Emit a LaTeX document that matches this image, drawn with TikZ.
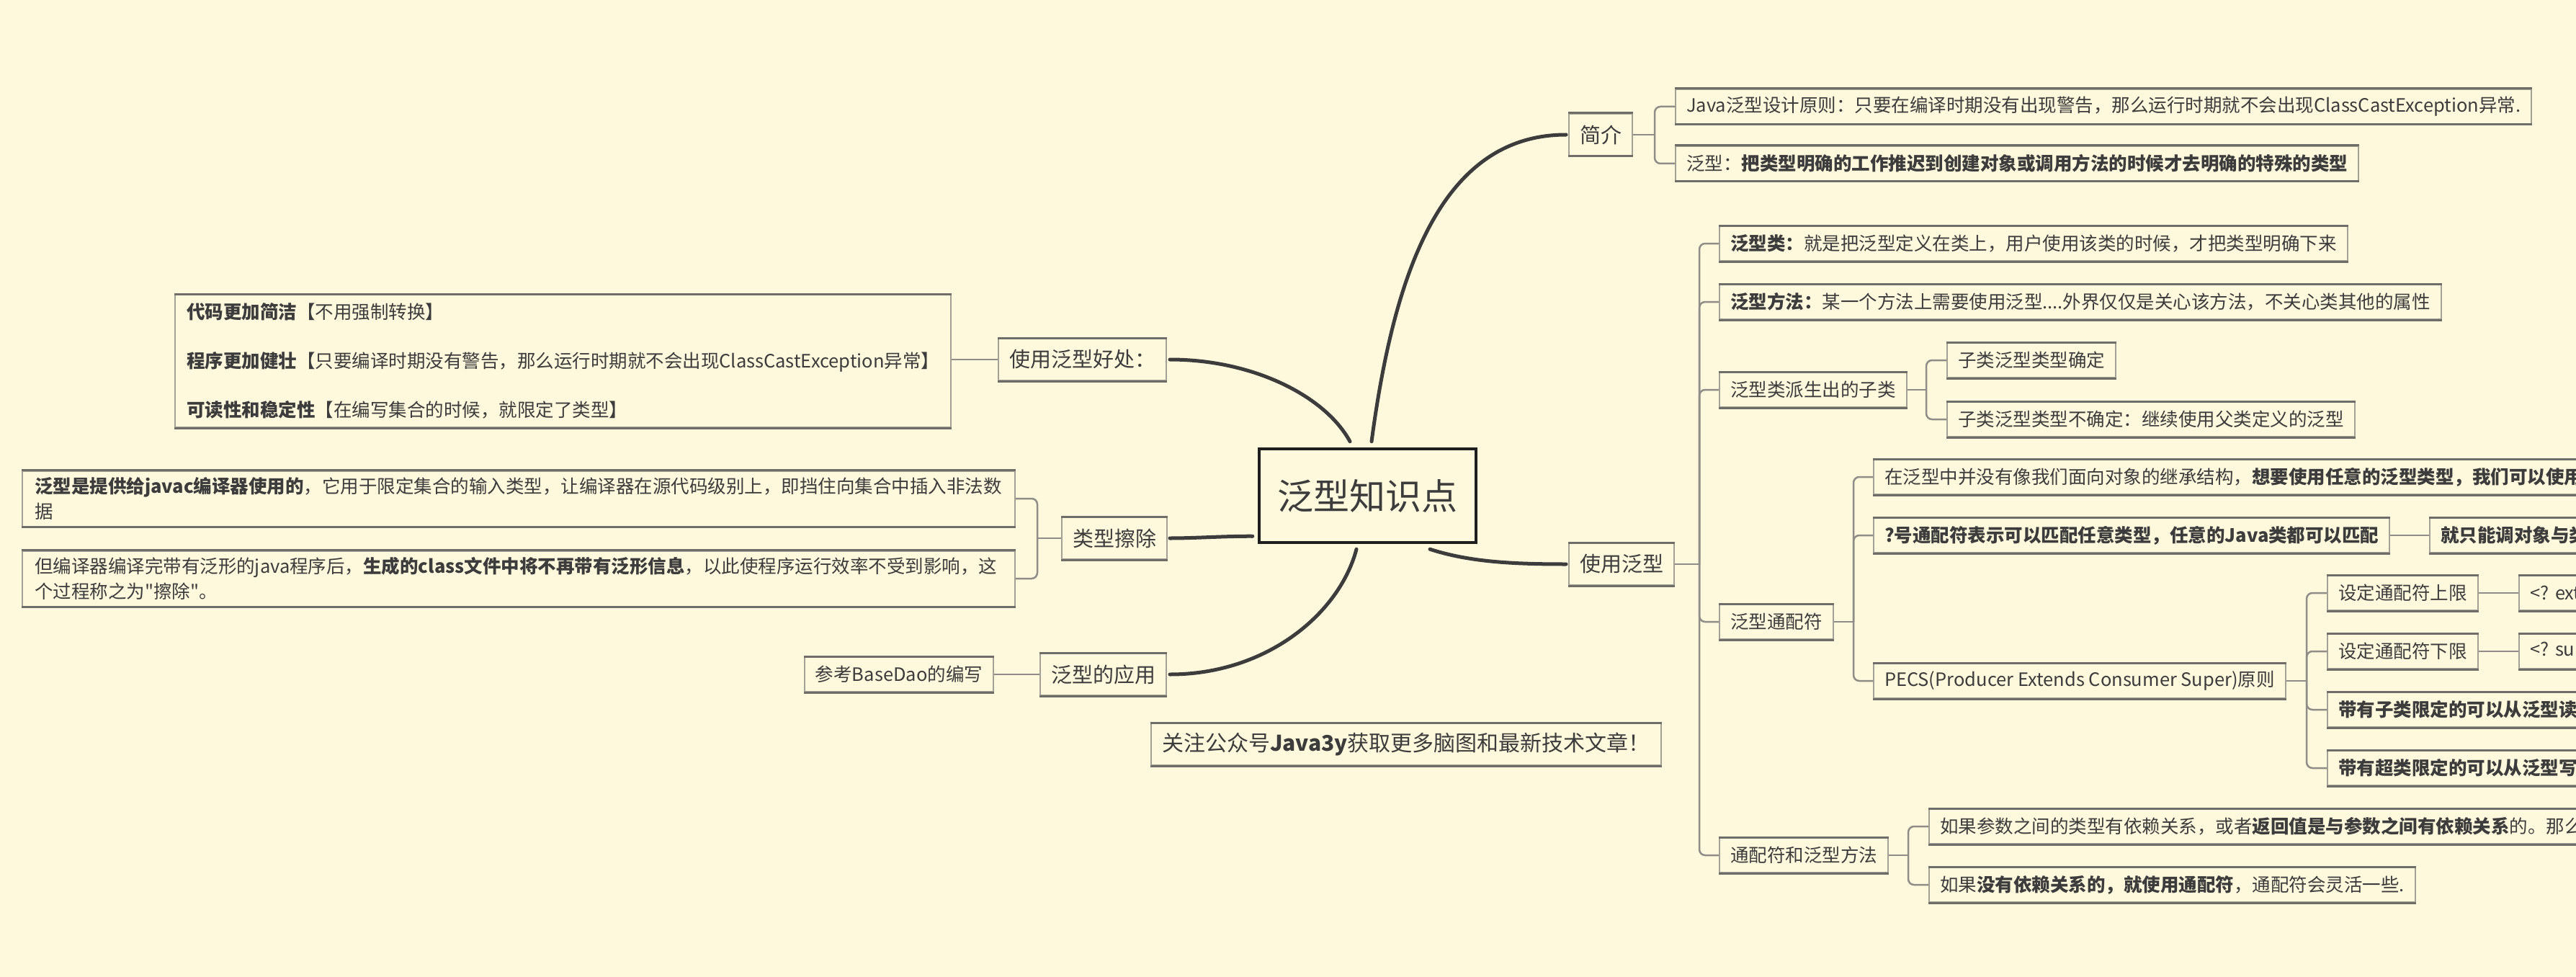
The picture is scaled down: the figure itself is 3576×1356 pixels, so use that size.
\documentclass[tikz,border=0pt]{standalone}
\usepackage{fontspec}
\setmainfont{Noto Sans CJK SC}
\newfontfamily\plainq{Noto Sans CJK SC}
\usetikzlibrary{calc}
\definecolor{bg}{HTML}{FEF8DC}
\definecolor{ink}{HTML}{3C3C3C}
\definecolor{sidegray}{HTML}{A3A196}
\definecolor{edgegray}{HTML}{6E6D68}
\definecolor{conngray}{HTML}{8E8D87}
\definecolor{mainline}{HTML}{3C3C3C}
\definecolor{rootline}{HTML}{1E1E1E}
\newcommand\fsA{\fontsize{29}{36}\selectfont}
\newcommand\fsB{\fontsize{25.5}{35}\selectfont}
\newcommand\fsN{\fontsize{30}{36}\selectfont}
\newcommand\fsR{\fontsize{50}{60}\selectfont}
\tikzset{
  edgeline/.style={draw=edgegray, line width=3},
  box/.style={draw=sidegray, line width=2, fill=bg, text=ink, inner xsep=15, inner ysep=0, anchor=west,
    append after command={(\tikzlastnode.north west) edge[edgeline] (\tikzlastnode.north east)
      (\tikzlastnode.south west) edge[edgeline] (\tikzlastnode.south east)}},
  lvone/.style={box, font=\fsA, minimum height=58},
  lvtwo/.style={box, font=\fsB, minimum height=48},
  cutbox/.style={lvtwo, text width=1200, align=left},
  rootbox/.style={draw=rootline, line width=4.5, fill=bg, text=ink, font=\fsR, minimum width=301, minimum height=130},
  conn/.style={draw=conngray, line width=2.5, rounded corners=8},
  mainc/.style={draw=mainline, line width=5, line cap=round},
}
\begin{document}
\begin{tikzpicture}[x=1pt,y=-1pt]
\useasboundingbox (0,0) rectangle (3576,1356);
\fill[bg] (0,0) rectangle (3576,1356);
\clip (0,0) rectangle (3576,1356);

% root
\node[rootbox] (root) at (1898.5,688) {泛型知识点};

% ---------- 简介
\node[lvone] (jj) at (2177,187) {简介};
\node[lvtwo] (jj1) at (2325,148) {Java泛型设计原则：只要在编译时期没有出现警告，那么运行时期就不会出现ClassCastException异常.};
\node[lvtwo] (jj2) at (2325,227) {泛型：\textbf{把类型明确的工作推迟到创建对象或调用方法的时候才去明确的特殊的类型}};
\coordinate (bjj) at (2297,187);
\draw[conn] (jj.east) -- (bjj);
\draw[conn] (bjj) |- (jj1.west);
\draw[conn] (bjj) |- (jj2.west);

% ---------- 使用泛型
\node[lvone] (sy) at (2177,783) {使用泛型};
\coordinate (bsy) at (2359,783);
\draw[conn] (sy.east) -- (bsy);

\node[lvtwo] (c1) at (2386,338) {\textbf{泛型类：}就是把泛型定义在类上，用户使用该类的时候，才把类型明确下来};
\node[lvtwo] (c2) at (2386,419) {\textbf{泛型方法：}某一个方法上需要使用泛型....外界仅仅是关心该方法，不关心类其他的属性};
\node[lvtwo] (c3) at (2386,541) {泛型类派生出的子类};
\node[lvtwo] (c4) at (2386,863) {泛型通配符};
\node[lvtwo] (c5) at (2386,1187) {通配符和泛型方法};
\foreach \n in {c1,c2,c3,c4,c5} \draw[conn] (bsy) |- (\n.west);

% 泛型类派生出的子类
\node[lvtwo] (c31) at (2702,500) {子类泛型类型确定};
\node[lvtwo] (c32) at (2702,582) {子类泛型类型不确定：继续使用父类定义的泛型};
\coordinate (bc3) at (2674,541);
\draw[conn] (c3.east) -- (bc3);
\draw[conn] (bc3) |- (c31.west);
\draw[conn] (bc3) |- (c32.west);

% 泛型通配符
\node[cutbox] (c41) at (2600,662) {在泛型中并没有像我们面向对象的继承结构，\textbf{想要使用任意的泛型类型，我们可以使用}};
\node[lvtwo] (c42) at (2600,743) {\textbf{?号通配符表示可以匹配任意类型，任意的Java类都可以匹配}};
\node[cutbox] (c421) at (3372,743) {\textbf{就只能调对象与类}};
\node[lvtwo] (c43) at (2600,945) {PECS(Producer Extends Consumer Super)原则};
\coordinate (bc4) at (2573,863);
\draw[conn] (c4.east) -- (bc4);
\draw[conn] (bc4) |- (c41.west);
\draw[conn] (bc4) |- (c42.west);
\draw[conn] (bc4) |- (c43.west);
\draw[conn] (c42.east) -- (c421.west);

% PECS
\node[lvtwo] (c431) at (3230,823) {设定通配符上限};
\node[lvtwo] (c432) at (3230,904) {设定通配符下限};
\node[cutbox] (c433) at (3230,985) {\textbf{带有子类限定的可以从泛型读}};
\node[cutbox] (c434) at (3230,1066) {\textbf{带有超类限定的可以从泛型写}};
\node[cutbox] (c4311) at (3496,823) {<?\hspace{-4pt} ext};
\node[cutbox] (c4321) at (3496,904) {<?\hspace{-4pt} sup};
\coordinate (bc43) at (3202,945);
\draw[conn] (c43.east) -- (bc43);
\foreach \n in {c431,c432,c433,c434} \draw[conn] (bc43) |- (\n.west);
\draw[conn] (c431.east) -- (c4311.west);
\draw[conn] (c432.east) -- (c4321.west);

% 通配符和泛型方法
\node[cutbox] (c51) at (2677,1147) {如果参数之间的类型有依赖关系，或者\textbf{返回值是与参数之间有依赖关系}的。那么};
\node[lvtwo] (c52) at (2677,1228) {如果\textbf{没有依赖关系的，就使用通配符}，通配符会灵活一些.};
\coordinate (bc5) at (2649,1187);
\draw[conn] (c5.east) -- (bc5);
\draw[conn] (bc5) |- (c51.west);
\draw[conn] (bc5) |- (c52.west);

% ---------- 使用泛型好处
\node[lvone, anchor=east] (hc) at (1620,499) {使用泛型好处：};
\node[box, anchor=east, font=\fsB, inner xsep=16, text width=1045, align=left, minimum height=184] (hc1) at (1321,501)
  {\textbf{代码更加简洁}【不用强制转换】\\[33pt]
   \textbf{程序更加健壮}【只要编译时期没有警告，那么运行时期就不会出现ClassCastException异常】\\[33pt]
   \textbf{可读性和稳定性}【在编写集合的时候，就限定了类型】};
\draw[conn] (hc.west) -- (hc1.east |- hc.west);

% ---------- 类型擦除
\node[lvone, anchor=east] (cc) at (1621,747) {类型擦除};
\node[box, anchor=east, font=\fsB, inner xsep=17, text width=1344, align=left, minimum height=77] (cc1) at (1410,692)
  {\textbf{泛型是提供给javac编译器使用的}，它用于限定集合的输入类型，让编译器在源代码级别上，即挡住向集合中插入非法数\\据};
\node[box, anchor=east, font=\fsB, inner xsep=17, text width=1344, align=left, minimum height=77] (cc2) at (1410,803)
  {但编译器编译完带有泛形的java程序后，\textbf{生成的class文件中将不再带有泛形信息}，以此使程序运行效率不受到影响，这\\个过程称之为{\plainq "}擦除{\plainq "}。};
\coordinate (bcc) at (1440,747);
\draw[conn] (cc.west) -- (bcc);
\draw[conn] (bcc) |- (cc1.east);
\draw[conn] (bcc) |- (cc2.east);

% ---------- 泛型的应用
\node[lvone, anchor=east] (yy) at (1620,936) {泛型的应用};
\node[lvtwo, anchor=east] (yy1) at (1380,936) {参考BaseDao的编写};
\draw[conn] (yy.west) -- (yy1.east);

% ---------- note
\node[box, font=\fsN, minimum height=58] (note) at (1597,1033) {关注公众号\textbf{Java3y}获取更多脑图和最新技术文章！};

% ---------- main curves
\draw[mainc] ([shift={(5.5,-8)}]root.north) .. controls (1935,380) and (2000,187) .. ([xshift=-3]jj.west);
\draw[mainc] ([shift={(86.5,7)}]root.south) .. controls (2040,780) and (2100,783) .. ([xshift=-3]sy.west);
\draw[mainc] ([shift={(-24.5,-8)}]root.north) .. controls (1840,550) and (1740,499) .. ([xshift=4]hc.east);
\draw[mainc] ([shift={(-7,-11)}]root.south west) .. controls (1700,744) and (1660,747) .. ([xshift=3]cc.east);
\draw[mainc] ([shift={(-15.5,7)}]root.south) .. controls (1860,850) and (1760,936) .. ([xshift=4]yy.east);
\end{tikzpicture}
\end{document}
